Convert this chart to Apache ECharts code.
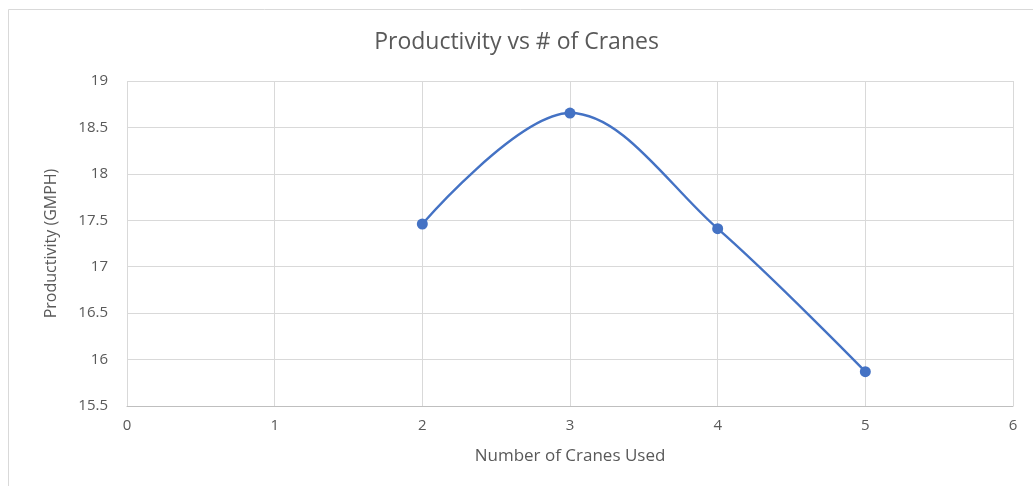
<!DOCTYPE html>
<html><head><meta charset="utf-8">
<script src="https://cdn.jsdelivr.net/npm/echarts@6/dist/echarts.min.js"></script>
<style>html,body{margin:0;padding:0;background:#fff}#c{width:1033px;height:486px}</style>
</head><body><div id="c"></div>
<script>
var cranes = [2, 3, 4, 5];
var productivity = [17.46, 18.655, 17.41, 15.87];
var xTicks = [0, 1, 2, 3, 4, 5, 6];
var yTicks = [15.5, 16, 16.5, 17, 17.5, 18, 18.5, 19];

var chart = echarts.init(document.getElementById('c'), null, {renderer: 'canvas'});
var font = '"Open Sans", "Liberation Sans", sans-serif';
var data = cranes.map(function (c, i) { return [c, productivity[i]]; });
chart.setOption({
  animation: false,
  backgroundColor: '#fff',
  title: {
    text: 'Productivity vs # of Cranes',
    left: 'center', top: 26,
    textStyle: {fontFamily: font, fontSize: 23, fontWeight: 'normal', color: '#595959'}
  },
  graphic: [
    {type: 'line', shape: {x1: 8.5, y1: 9.5, x2: 1033, y2: 9.5}, style: {stroke: '#d9d9d9', lineWidth: 1}},
    {type: 'line', shape: {x1: 8.5, y1: 9.5, x2: 8.5, y2: 486}, style: {stroke: '#d9d9d9', lineWidth: 1}}
  ],
  grid: {left: 127, right: 20, top: 81, bottom: 80},
  xAxis: {
    type: 'value', min: xTicks[0], max: xTicks[xTicks.length - 1], interval: 1,
    name: 'Number of Cranes Used', nameLocation: 'middle', nameGap: 42,
    nameTextStyle: {fontFamily: font, fontSize: 17, color: '#595959'},
    axisLine: {show: true, lineStyle: {color: '#bfbfbf'}},
    axisTick: {show: false},
    axisLabel: {fontFamily: font, fontSize: 15, color: '#595959', margin: 12},
    splitLine: {show: true, lineStyle: {color: '#d9d9d9'}}
  },
  yAxis: {
    type: 'value', min: yTicks[0], max: yTicks[yTicks.length - 1], interval: 0.5,
    name: 'Productivity (GMPH)', nameLocation: 'middle', nameGap: 68, nameRotate: 90,
    nameTextStyle: {fontFamily: font, fontSize: 16, color: '#595959'},
    axisLine: {show: false},
    axisTick: {show: false},
    axisLabel: {fontFamily: font, fontSize: 15, color: '#595959', margin: 19},
    splitLine: {show: true, lineStyle: {color: '#d9d9d9'}}
  },
  series: [{
    type: 'line', data: data, smooth: 0.35,
    symbol: 'circle', symbolSize: 11,
    lineStyle: {color: '#4472c4', width: 2.4},
    itemStyle: {color: '#4472c4'}
  }]
});
</script></body></html>
